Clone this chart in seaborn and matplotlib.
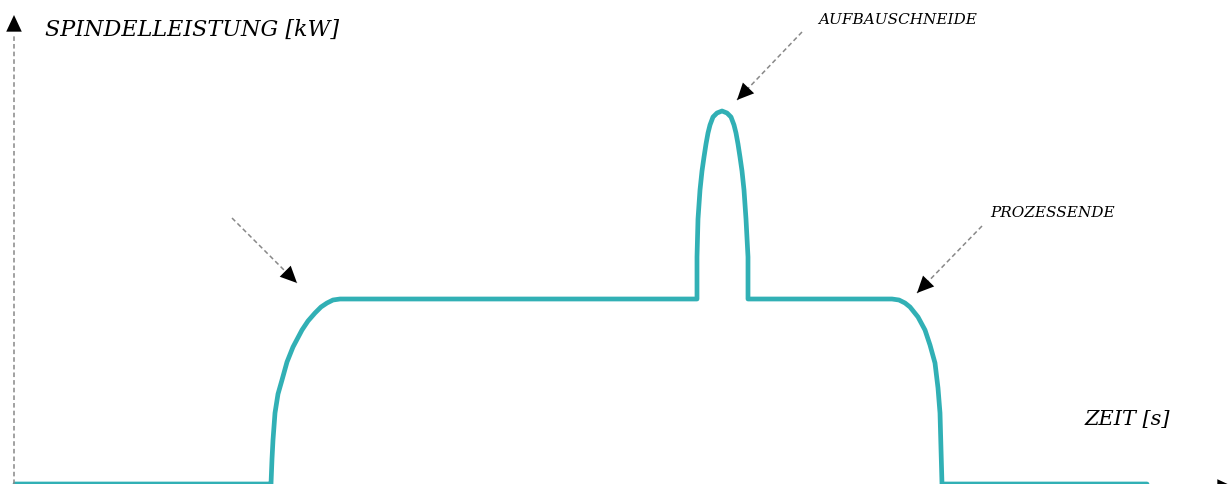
import numpy as np
import pandas as pd
import matplotlib
matplotlib.use("Agg")
import matplotlib.pyplot as plt
import seaborn as sns

sns.set_theme(style="white")
plt.rcParams["font.family"] = ["DejaVu Serif", "DejaVu Sans"]
plt.rcParams["text.color"] = "black"

# ---------------------------------------------------------------------------
# schematic spindle power curve
# ---------------------------------------------------------------------------
zeit_s = [1.5, 27.0,
          27.1, 27.2, 27.3, 27.5, 27.8, 28.2, 28.7, 29.3, 30.2, 30.8, 31.5, 32.1, 32.7, 33.3, 34.0,
          69.7, 69.7, 69.8, 70.0, 70.2, 70.4, 70.6, 70.8, 71.0, 71.3, 71.7, 72.2,
          72.7, 73.1, 73.4, 73.6, 73.8, 74.0, 74.2, 74.4, 74.6, 74.8, 74.8,
          89.2, 89.9, 90.5, 91.0, 91.8, 92.5, 93.0, 93.5, 93.8, 94.0, 94.1, 94.2,
          114.7]
leistung_kw = [0.0, 0.0,
               0.0, 2.5, 4.4, 7.1, 9.0, 10.4, 12.2, 13.7, 15.4, 16.3, 17.1, 17.7, 18.1, 18.4, 18.5,
               18.5, 22.7, 26.5, 29.4, 31.3, 32.7, 34.0, 35.1, 35.9, 36.7, 37.1, 37.3,
               37.1, 36.7, 35.9, 35.1, 34.0, 32.7, 31.3, 29.4, 26.5, 22.7, 18.5,
               18.5, 18.4, 18.1, 17.7, 16.7, 15.4, 13.9, 12.1, 9.6, 7.1, 3.5, 0.0,
               0.0]

y_label = "SPINDELLEISTUNG [kW]"
x_label = "ZEIT [s]"
notes = ["", "AUFBAUSCHNEIDE", "PROZESSENDE"]
note_tail = [(23.2, 26.6), (80.2, 45.2), (98.2, 25.8)]
note_tip = [(29.7, 20.1), (73.7, 38.4), (91.7, 19.1)]
note_text = [None, (81.8, 46.4), (99.0, 27.1)]

TEAL = "#31b0b5"
df = pd.DataFrame({"zeit": zeit_s, "leistung": leistung_kw})

fig = plt.figure(figsize=(12.28, 4.84), dpi=100)
ax = fig.add_axes([0, 0, 1, 1])
sns.lineplot(data=df, x="zeit", y="leistung", sort=False, estimator=None,
             color=TEAL, linewidth=3.4, solid_joinstyle="round", ax=ax)
ax.set_xlim(0, 122.8)
ax.set_ylim(0, 48.4)
ax.set_axis_off()

HEAD = "-|>,head_length=0.6,head_width=0.28"


def dashed_arrow(tail, tip, head_from=0.88):
    # grey dashed shaft, solid black head
    ax.plot([tail[0], tip[0]], [tail[1], tip[1]], color="#888888", lw=1.1,
            ls=(0, (3, 2)), clip_on=False)
    base = (tail[0] + head_from * (tip[0] - tail[0]), tail[1] + head_from * (tip[1] - tail[1]))
    ax.annotate("", xy=tip, xytext=base,
                arrowprops=dict(arrowstyle=HEAD, mutation_scale=20, color="black", lw=0,
                                shrinkA=0, shrinkB=0), annotation_clip=False)


# axes drawn as dashed arrows
ax.plot([1.4, 1.4], [0, 45.0], color="#888888", lw=1.1, ls=(0, (3, 2)))
ax.annotate("", xy=(1.4, 46.9), xytext=(1.4, 44.6),
            arrowprops=dict(arrowstyle=HEAD, mutation_scale=20, color="black", lw=0,
                            shrinkA=0, shrinkB=0))
ax.annotate("", xy=(123.4, -0.3), xytext=(121.0, -0.3),
            arrowprops=dict(arrowstyle=HEAD, mutation_scale=20, color="black", lw=0,
                            shrinkA=0, shrinkB=0),
            annotation_clip=False)

ax.text(4.5, 45.4, y_label, fontsize=16, style="italic", va="center", ha="left")
ax.text(108.5, 6.4, x_label, fontsize=15, style="italic", va="center", ha="left")

for label, tail, tip, pos in zip(notes, note_tail, note_tip, note_text):
    dashed_arrow(tail, tip)
    if pos is not None:
        ax.text(pos[0], pos[1], label, fontsize=11, style="italic", va="center", ha="left")

fig.savefig("out.png", dpi=100)
